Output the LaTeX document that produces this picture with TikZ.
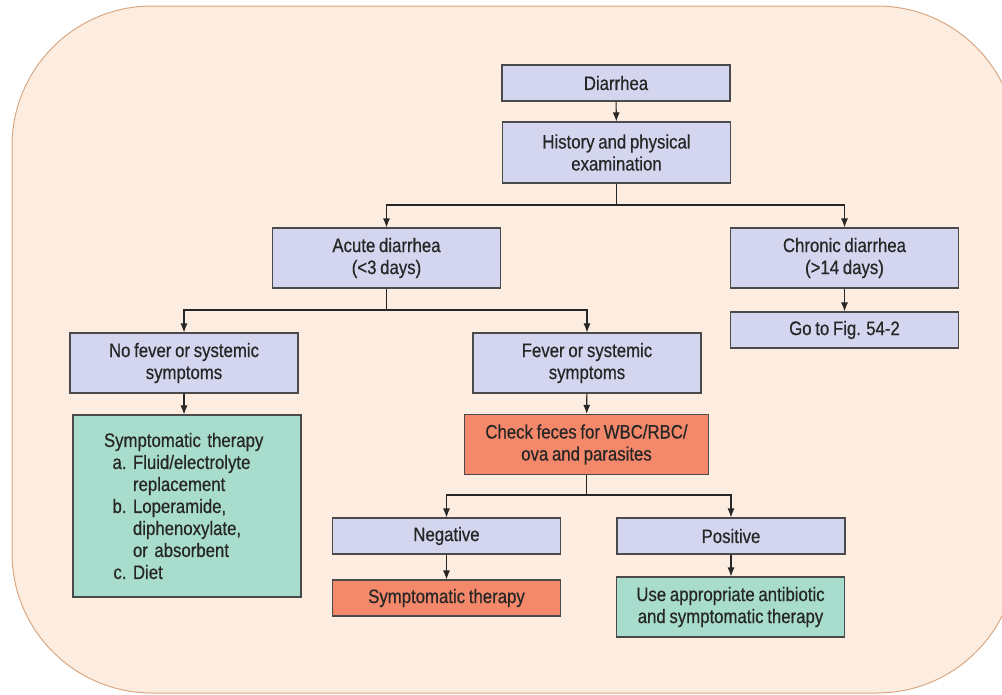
\documentclass[tikz,border=0pt]{standalone}
\usepackage{fontspec}
\setmainfont{Liberation Sans}[FakeStretch=0.86, FakeBold=0.5, WordSpace=0.8]
\usetikzlibrary{arrows.meta}

\definecolor{panelfill}{HTML}{FDEDE0}
\definecolor{panelline}{HTML}{D9A882}
\definecolor{lavender}{HTML}{D3D6EE}
\definecolor{mint}{HTML}{A8DCCC}
\definecolor{salmon}{HTML}{F4886A}
\definecolor{boxline}{HTML}{4A4A4A}
\definecolor{inkc}{HTML}{262626}

\tikzset{
  box/.style={draw=boxline, line width=1.1pt, rectangle, inner sep=0pt,
    align=center, text=inkc, font=\fontsize{19.5}{22}\selectfont,
    minimum width=228pt},
  qbox/.style={box, fill=lavender},
  gbox/.style={box, fill=mint},
  rbox/.style={box, fill=salmon},
  link/.style={draw=inkc, line width=1.1pt},
  flow/.style={link, -{Latex[length=9pt,width=7pt]}},
}

\begin{document}
\begin{tikzpicture}[x=1pt, y=-1pt]
  \useasboundingbox (0,0) rectangle (1002,694);
  \clip (0,0) rectangle (1002,694);

  % background panel
  \draw[fill=panelfill, draw=panelline, line width=1pt, rounded corners=140pt]
    (12,6) rectangle (1017,693);

  % boxes
  \node[qbox, minimum height=36pt] (diar) at (616,83) {Diarrhea};
  \node[qbox, minimum height=61pt] (hist) at (616.5,152.5) {History and physical\\examination};
  \node[qbox, minimum height=60pt] (acute) at (386.5,258) {Acute diarrhea\\(<3 days)};
  \node[qbox, minimum height=60pt] (chron) at (844.5,258) {Chronic diarrhea\\(>14 days)};
  \node[qbox, minimum height=36pt] (goto) at (844.5,330) {Go to Fig. 54-2};
  \node[qbox, minimum height=60pt] (nofev) at (184,363) {No fever or systemic\\symptoms};
  \node[qbox, minimum height=60pt] (fev) at (587,363) {Fever or systemic\\symptoms};
  \node[gbox, minimum height=182pt, align=left, text width=166pt, inner xsep=31pt] (symg) at (187,506)
    {Symptomatic therapy\\
     \hspace*{29pt}\llap{a.\ }Fluid/electrolyte\\
     \hspace*{29pt}replacement\\
     \hspace*{29pt}\llap{b.\ }Loperamide,\\
     \hspace*{29pt}diphenoxylate,\\
     \hspace*{29pt}or absorbent\\
     \hspace*{29pt}\llap{c.\ }Diet};
  \node[rbox, minimum width=244pt, minimum height=60pt] (feces) at (586.5,444.5) {Check feces for WBC/RBC/\\ova and parasites};
  \node[qbox, minimum height=36pt] (neg) at (446.5,536) {Negative};
  \node[qbox, minimum height=36pt] (pos) at (731,536) {Positive};
  \node[rbox, minimum height=36pt] (symr) at (446.5,598) {Symptomatic therapy};
  \node[gbox, minimum height=60pt] (abx) at (730.5,607) {Use appropriate antibiotic\\and symptomatic therapy};

  % branch points
  \coordinate (j1) at (616.5,205);
  \coordinate (j2) at (386.5,310);
  \coordinate (j3) at (586.5,495);

  % connectors
  \draw[flow] (diar) -- (hist);
  \draw[link] (hist.south) -- (j1);
  \draw[flow] (j1) -| (acute.north);
  \draw[flow] (j1) -| (chron.north);
  \draw[flow] (chron) -- (goto);
  \draw[link] (acute.south) -- (j2);
  \draw[flow] (j2) -| (nofev.north);
  \draw[flow] (j2) -| (fev.north);
  \draw[flow] (nofev.south) -- (nofev.south |- symg.north);
  \draw[flow] (fev) -- (feces);
  \draw[link] (feces.south) -- (j3);
  \draw[flow] (j3) -| (neg.north);
  \draw[flow] (j3) -| (pos.north);
  \draw[flow] (neg) -- (symr);
  \draw[flow] (pos.south) -- (pos.south |- abx.north);
\end{tikzpicture}
\end{document}
